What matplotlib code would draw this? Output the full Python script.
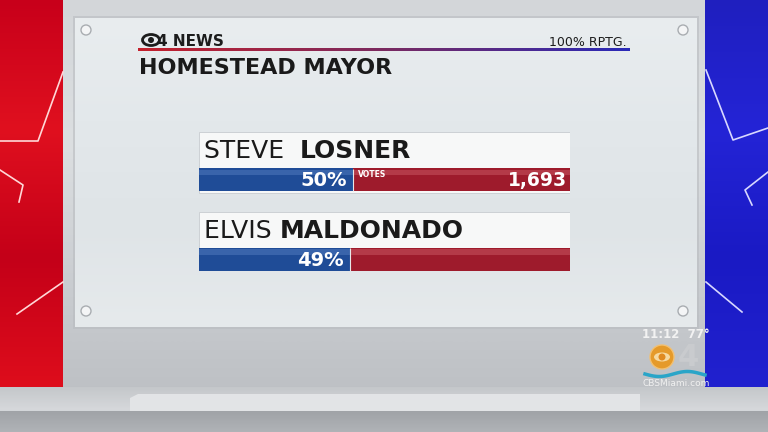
import numpy as np
import matplotlib.pyplot as plt
from matplotlib.patches import Rectangle, Circle, Ellipse, Polygon
from matplotlib.colors import LinearSegmentedColormap

plt.rcParams['font.family'] = ['DejaVu Sans']

# race data
race_title = "HOMESTEAD MAYOR"
reporting = "100% RPTG."
first_names = ["STEVE", "ELVIS"]
last_names = ["LOSNER", "MALDONADO"]
percents = [50, 49]
votes = ["1,693", ""]

SCALE = 120.5   # bar axis range so 50% fills the blue part like the board

fig = plt.figure(figsize=(7.68, 4.32), dpi=100)
bg = fig.add_axes([0, 0, 1, 1])
bg.set_xlim(0, 768)
bg.set_ylim(432, 0)
bg.axis("off")


def grad(ax, x0, x1, y0, y1, colors, z=0, horiz=False):
    cmap = LinearSegmentedColormap.from_list("g", colors)
    g = np.linspace(0, 1, 256)
    arr = g[None, :] if horiz else g[:, None]
    ax.imshow(arr, cmap=cmap, extent=[x0, x1, y1, y0], aspect="auto",
              zorder=z, interpolation="bicubic")


# studio background
grad(bg, 0, 768, 0, 432, ["#d3d6d9", "#dcdfe1", "#c9ccd0", "#b9bcc0"], z=0)
grad(bg, 0, 768, 387, 432, ["#c4c7ca", "#d6d8db", "#a9acb0"], z=1)
bg.add_patch(Polygon([[130, 432], [130, 398], [138, 394], [640, 394], [640, 432]],
                     closed=True, fc="#e2e4e6", ec="none", zorder=2))
grad(bg, 0, 768, 411, 432, ["#a0a3a7", "#b0b3b7"], z=3)

# side panels
grad(bg, 0, 63, 0, 387, ["#c8001a", "#e0101f", "#c40018", "#de0d1c"], z=2)
grad(bg, 705, 768, 0, 387, ["#1f1fbf", "#2424d6", "#1a1ac4", "#2121cf"], z=2)
for pts in ([(63, 72), (38, 141), (0, 141)], [(0, 170), (23, 185), (19, 202)],
            [(63, 282), (17, 314)]):
    xs, ys = zip(*pts)
    bg.plot(xs, ys, color="#ffd7d7", lw=1.2, zorder=3)
for pts in ([(706, 70), (733, 140), (768, 128)], [(768, 172), (745, 190), (752, 205)],
            [(706, 282), (742, 312)]):
    xs, ys = zip(*pts)
    bg.plot(xs, ys, color="#d8d8ff", lw=1.2, zorder=3)

# board
bg.add_patch(Rectangle((73, 16), 626, 313, fc="#b9bcc0", ec="none", alpha=0.6, zorder=3))
grad(bg, 75, 697, 18, 327, ["#e9edef", "#e3e8eb", "#dfe4e7", "#e6eaec"], z=4)
for sx, sy in [(86, 30), (683, 30), (86, 311), (683, 311)]:
    bg.add_patch(Circle((sx, sy), 5, fc="#f4f5f6", ec="#a9adb1", lw=1, zorder=5))

# header
bg.add_patch(Ellipse((151, 40), 17, 11, fc="none", ec="#1c1c1c", lw=2, zorder=6))
bg.add_patch(Circle((151, 40), 3, fc="#1c1c1c", ec="none", zorder=6))
bg.text(157, 46, "4 NEWS", fontsize=11, fontweight="bold", color="#1c1c1c",
        va="baseline", ha="left", zorder=6)
bg.text(627, 46, reporting, fontsize=9, color="#1c1c1c", va="baseline",
        ha="right", zorder=6)
grad(bg, 138, 630, 48.5, 51, ["#c4202c", "#7a2a60", "#2a2ab8"], z=6, horiz=True)
bg.text(139, 73.5, race_title, fontsize=16, fontweight="bold", color="#1a1a1a",
        va="baseline", ha="left", zorder=6)

# results bars
top_px, bot_px = 132, 271
bar = fig.add_axes([199 / 768, 1 - bot_px / 432, 371 / 768, (bot_px - top_px) / 432])
bar.set_xlim(0, SCALE)
bar.set_ylim(1.146, -0.601)
bar.axis("off")
rows = np.arange(len(percents))
bar.barh(rows - 0.215, SCALE, height=0.77, left=0, color="#f7f8f8",
         edgecolor="#c8ccd0", lw=0.6, zorder=1)
bar.barh(rows, percents, height=0.285, color="#1f4c97", zorder=2)
bar.barh(rows, [SCALE - p for p in percents], left=percents, height=0.285,
         color="#9e1b2c", zorder=2)
bar.barh(rows - 0.09, percents, height=0.07, color="#5a83c4", alpha=0.45, zorder=3)
bar.barh(rows - 0.09, [SCALE - p for p in percents], left=percents, height=0.07,
         color="#d0606c", alpha=0.45, zorder=3)
bar.vlines(percents, rows - 0.142, rows + 0.142, color="#e8e8e8", lw=0.8, zorder=4)

for r, (fn, ln, p, v) in enumerate(zip(first_names, last_names, percents, votes)):
    t = bar.text(1.6, r - 0.36, fn + "  " if r == 0 else fn + " ", fontsize=18,
                 color="#1a1a1a", va="center", ha="left", zorder=5)
    fig.canvas.draw()
    ext = t.get_window_extent()
    x_end = bar.transData.inverted().transform((ext.x1, ext.y0))[0]
    bar.text(x_end, r - 0.36, ln, fontsize=18, fontweight="bold", color="#1a1a1a",
             va="center", ha="left", zorder=5)
    bar.text(p - 1.9, r + 0.01, f"{p}%", fontsize=14, fontweight="bold",
             color="white", va="center", ha="right", zorder=5)
    if v:
        bar.text(p + 1.7, r - 0.07, "VOTES", fontsize=5.5, fontweight="bold",
                 color="white", va="center", ha="left", zorder=5)
        bar.text(SCALE - 1.0, r + 0.01, v, fontsize=13.5, fontweight="bold",
                 color="white", va="center", ha="right", zorder=5)

# station bug
bg.text(676, 338, "11:12  77°", fontsize=8.5, fontweight="bold", color="#f2f2f2",
        ha="center", va="baseline", zorder=6)
bg.add_patch(Circle((662, 357), 12, fc="#e59a2a", ec="#f3c070", lw=1, zorder=6))
bg.add_patch(Ellipse((662, 357), 16, 9, fc="#f6d9a0", ec="none", zorder=7))
bg.add_patch(Circle((662, 357), 3.5, fc="#e08a20", ec="none", zorder=8))
bg.text(688, 366, "4", fontsize=22, fontweight="bold", color="#c9cbce",
        ha="center", va="baseline", zorder=6)
wx = np.linspace(645, 705, 60)
bg.plot(wx, 374 + 2.5 * np.sin((wx - 645) / 9), color="#2aa5c8", lw=2.5, zorder=6)
bg.text(676, 386, "CBSMiami.com", fontsize=6.5, color="#f0f0f0", ha="center",
        va="baseline", zorder=6)

fig.savefig("out.png", dpi=100)
